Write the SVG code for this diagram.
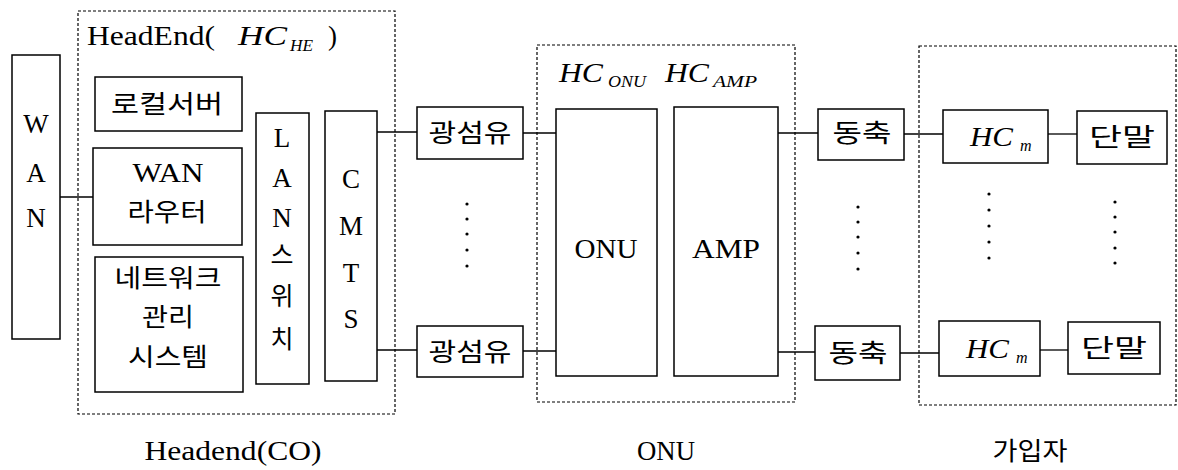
<svg xmlns="http://www.w3.org/2000/svg" width="1178" height="470" viewBox="0 0 1178 470">
<style>
.box{fill:#fff;stroke:#000;stroke-width:1.5}
.grp{fill:none;stroke:#000;stroke-width:1.2;stroke-dasharray:3 2}
.ln{stroke:#000;stroke-width:1.3;fill:none}
text{font-family:"Liberation Serif","Noto Sans CJK KR",serif;font-size:27px;fill:#000}
.k{font-family:"Noto Sans CJK KR","Liberation Serif",sans-serif;font-size:25px}
.c{text-anchor:middle}
.it{font-style:italic}
.sub{font-style:italic;font-size:16px}
.dot{fill:#000}
</style>
<rect width="1178" height="470" fill="#fff"/>
<g id="groups">
<rect class="grp" x="78" y="11" width="317" height="403"/>
<rect class="grp" x="537" y="45" width="258" height="357"/>
<rect class="grp" x="919" y="46" width="257" height="359"/>
</g>
<g id="connectors">
<line class="ln" x1="60" y1="197" x2="93" y2="197"/>
<line class="ln" x1="377" y1="132" x2="417" y2="132"/>
<line class="ln" x1="377" y1="350" x2="417" y2="350"/>
<line class="ln" x1="523" y1="133" x2="556" y2="133"/>
<line class="ln" x1="523" y1="351" x2="556" y2="351"/>
<line class="ln" x1="778" y1="133" x2="818" y2="133"/>
<line class="ln" x1="778" y1="352" x2="815" y2="352"/>
<line class="ln" x1="904" y1="134" x2="943" y2="134"/>
<line class="ln" x1="900" y1="353" x2="939" y2="353"/>
<line class="ln" x1="1048" y1="134" x2="1077" y2="134"/>
<line class="ln" x1="1040" y1="350" x2="1068" y2="350"/>
</g>
<g id="headend-title">
<text x="87" y="45" textLength="128" lengthAdjust="spacingAndGlyphs">HeadEnd(</text>
<text class="it" x="238" y="45" textLength="49" lengthAdjust="spacingAndGlyphs">HC</text>
<text class="sub" x="290" y="51" textLength="23" lengthAdjust="spacingAndGlyphs">HE</text>
<text x="328" y="45">)</text>
</g>
<g id="wan">
<rect class="box" x="12" y="55" width="48" height="284"/>
<text class="c" x="36" y="133">W</text>
<text class="c" x="36" y="182">A</text>
<text class="c" x="36" y="227">N</text>
</g>
<g id="local-server">
<rect class="box" x="95" y="77" width="147" height="54"/>
<text class="c k" x="167" y="113" textLength="112" lengthAdjust="spacingAndGlyphs">로컬서버</text>
</g>
<g id="wan-router">
<rect class="box" x="93" y="148" width="149" height="97"/>
<text class="c" x="168" y="182" textLength="71" lengthAdjust="spacingAndGlyphs">WAN</text>
<text class="c k" x="167" y="221" textLength="79" lengthAdjust="spacingAndGlyphs">라우터</text>
</g>
<g id="nms">
<rect class="box" x="95" y="257" width="148" height="135"/>
<text class="c k" x="168" y="287" textLength="107" lengthAdjust="spacingAndGlyphs">네트워크</text>
<text class="c k" x="168" y="326" textLength="52" lengthAdjust="spacingAndGlyphs">관리</text>
<text class="c k" x="168" y="366" textLength="80" lengthAdjust="spacingAndGlyphs">시스템</text>
</g>
<g id="lan-switch">
<rect class="box" x="256" y="113" width="53" height="271"/>
<text class="c" x="282" y="147">L</text>
<text class="c" x="282" y="187">A</text>
<text class="c" x="282" y="227">N</text>
<text class="c k" x="282" y="264">스</text>
<text class="c k" x="282" y="305">위</text>
<text class="c k" x="282" y="348">치</text>
</g>
<g id="cmts">
<rect class="box" x="325" y="111" width="52" height="270"/>
<text class="c" x="351" y="188">C</text>
<text class="c" x="351" y="235">M</text>
<text class="c" x="351" y="282">T</text>
<text class="c" x="351" y="328">S</text>
</g>
<g id="fiber1">
<rect class="box" x="417" y="107" width="106" height="52"/>
<text class="c k" x="470" y="142" textLength="83" lengthAdjust="spacingAndGlyphs">광섬유</text>
</g>
<g id="fiber2">
<rect class="box" x="417" y="326" width="106" height="51"/>
<text class="c k" x="470" y="361" textLength="83" lengthAdjust="spacingAndGlyphs">광섬유</text>
</g>
<g id="fiber-dots">
<circle class="dot" cx="467" cy="204" r="1.6"/>
<circle class="dot" cx="467" cy="219" r="1.6"/>
<circle class="dot" cx="467" cy="234" r="1.6"/>
<circle class="dot" cx="467" cy="250" r="1.6"/>
<circle class="dot" cx="467" cy="266" r="1.6"/>
</g>
<g id="onu-title">
<text class="it" x="559" y="82" textLength="44" lengthAdjust="spacingAndGlyphs">HC</text>
<text class="sub" x="608" y="87" textLength="38" lengthAdjust="spacingAndGlyphs">ONU</text>
<text class="it" x="665" y="82" textLength="44" lengthAdjust="spacingAndGlyphs">HC</text>
<text class="sub" x="713" y="87" textLength="44" lengthAdjust="spacingAndGlyphs">AMP</text>
</g>
<g id="onu">
<rect class="box" x="556" y="109" width="101" height="267"/>
<text class="c" x="606" y="258" textLength="63" lengthAdjust="spacingAndGlyphs">ONU</text>
</g>
<g id="amp">
<rect class="box" x="674" y="107" width="104" height="269"/>
<text class="c" x="726" y="258" textLength="68" lengthAdjust="spacingAndGlyphs">AMP</text>
</g>
<g id="coax1">
<rect class="box" x="818" y="109" width="86" height="51"/>
<text class="c k" x="862" y="142" textLength="59" lengthAdjust="spacingAndGlyphs">동축</text>
</g>
<g id="coax2">
<rect class="box" x="815" y="326" width="85" height="54"/>
<text class="c k" x="858" y="362" textLength="59" lengthAdjust="spacingAndGlyphs">동축</text>
</g>
<g id="coax-dots">
<circle class="dot" cx="858" cy="207" r="1.6"/>
<circle class="dot" cx="858" cy="222" r="1.6"/>
<circle class="dot" cx="858" cy="237" r="1.6"/>
<circle class="dot" cx="858" cy="253" r="1.6"/>
<circle class="dot" cx="858" cy="269" r="1.6"/>
</g>
<g id="hcm1">
<rect class="box" x="943" y="110" width="105" height="53"/>
<text class="it" x="970" y="146" textLength="43" lengthAdjust="spacingAndGlyphs">HC</text>
<text class="sub" x="1020" y="151">m</text>
</g>
<g id="hcm2">
<rect class="box" x="939" y="321" width="101" height="55"/>
<text class="it" x="966" y="358" textLength="43" lengthAdjust="spacingAndGlyphs">HC</text>
<text class="sub" x="1016" y="363">m</text>
</g>
<g id="hcm-dots">
<circle class="dot" cx="989" cy="194" r="1.6"/>
<circle class="dot" cx="989" cy="210" r="1.6"/>
<circle class="dot" cx="989" cy="226" r="1.6"/>
<circle class="dot" cx="989" cy="242" r="1.6"/>
<circle class="dot" cx="989" cy="258" r="1.6"/>
</g>
<g id="term1">
<rect class="box" x="1077" y="111" width="90" height="53"/>
<text class="c k" x="1122" y="146" textLength="66" lengthAdjust="spacingAndGlyphs">단말</text>
</g>
<g id="term2">
<rect class="box" x="1068" y="322" width="92" height="52"/>
<text class="c k" x="1114" y="357" textLength="66" lengthAdjust="spacingAndGlyphs">단말</text>
</g>
<g id="term-dots">
<circle class="dot" cx="1115" cy="202" r="1.6"/>
<circle class="dot" cx="1115" cy="217" r="1.6"/>
<circle class="dot" cx="1115" cy="232" r="1.6"/>
<circle class="dot" cx="1115" cy="248" r="1.6"/>
<circle class="dot" cx="1115" cy="263" r="1.6"/>
</g>
<g id="labels">
<text class="c" x="233" y="460" textLength="177" lengthAdjust="spacingAndGlyphs">Headend(CO)</text>
<text class="c" x="666" y="460" textLength="58" lengthAdjust="spacingAndGlyphs">ONU</text>
<text class="c k" x="1030" y="460" textLength="75" lengthAdjust="spacingAndGlyphs">가입자</text>
</g>
</svg>
